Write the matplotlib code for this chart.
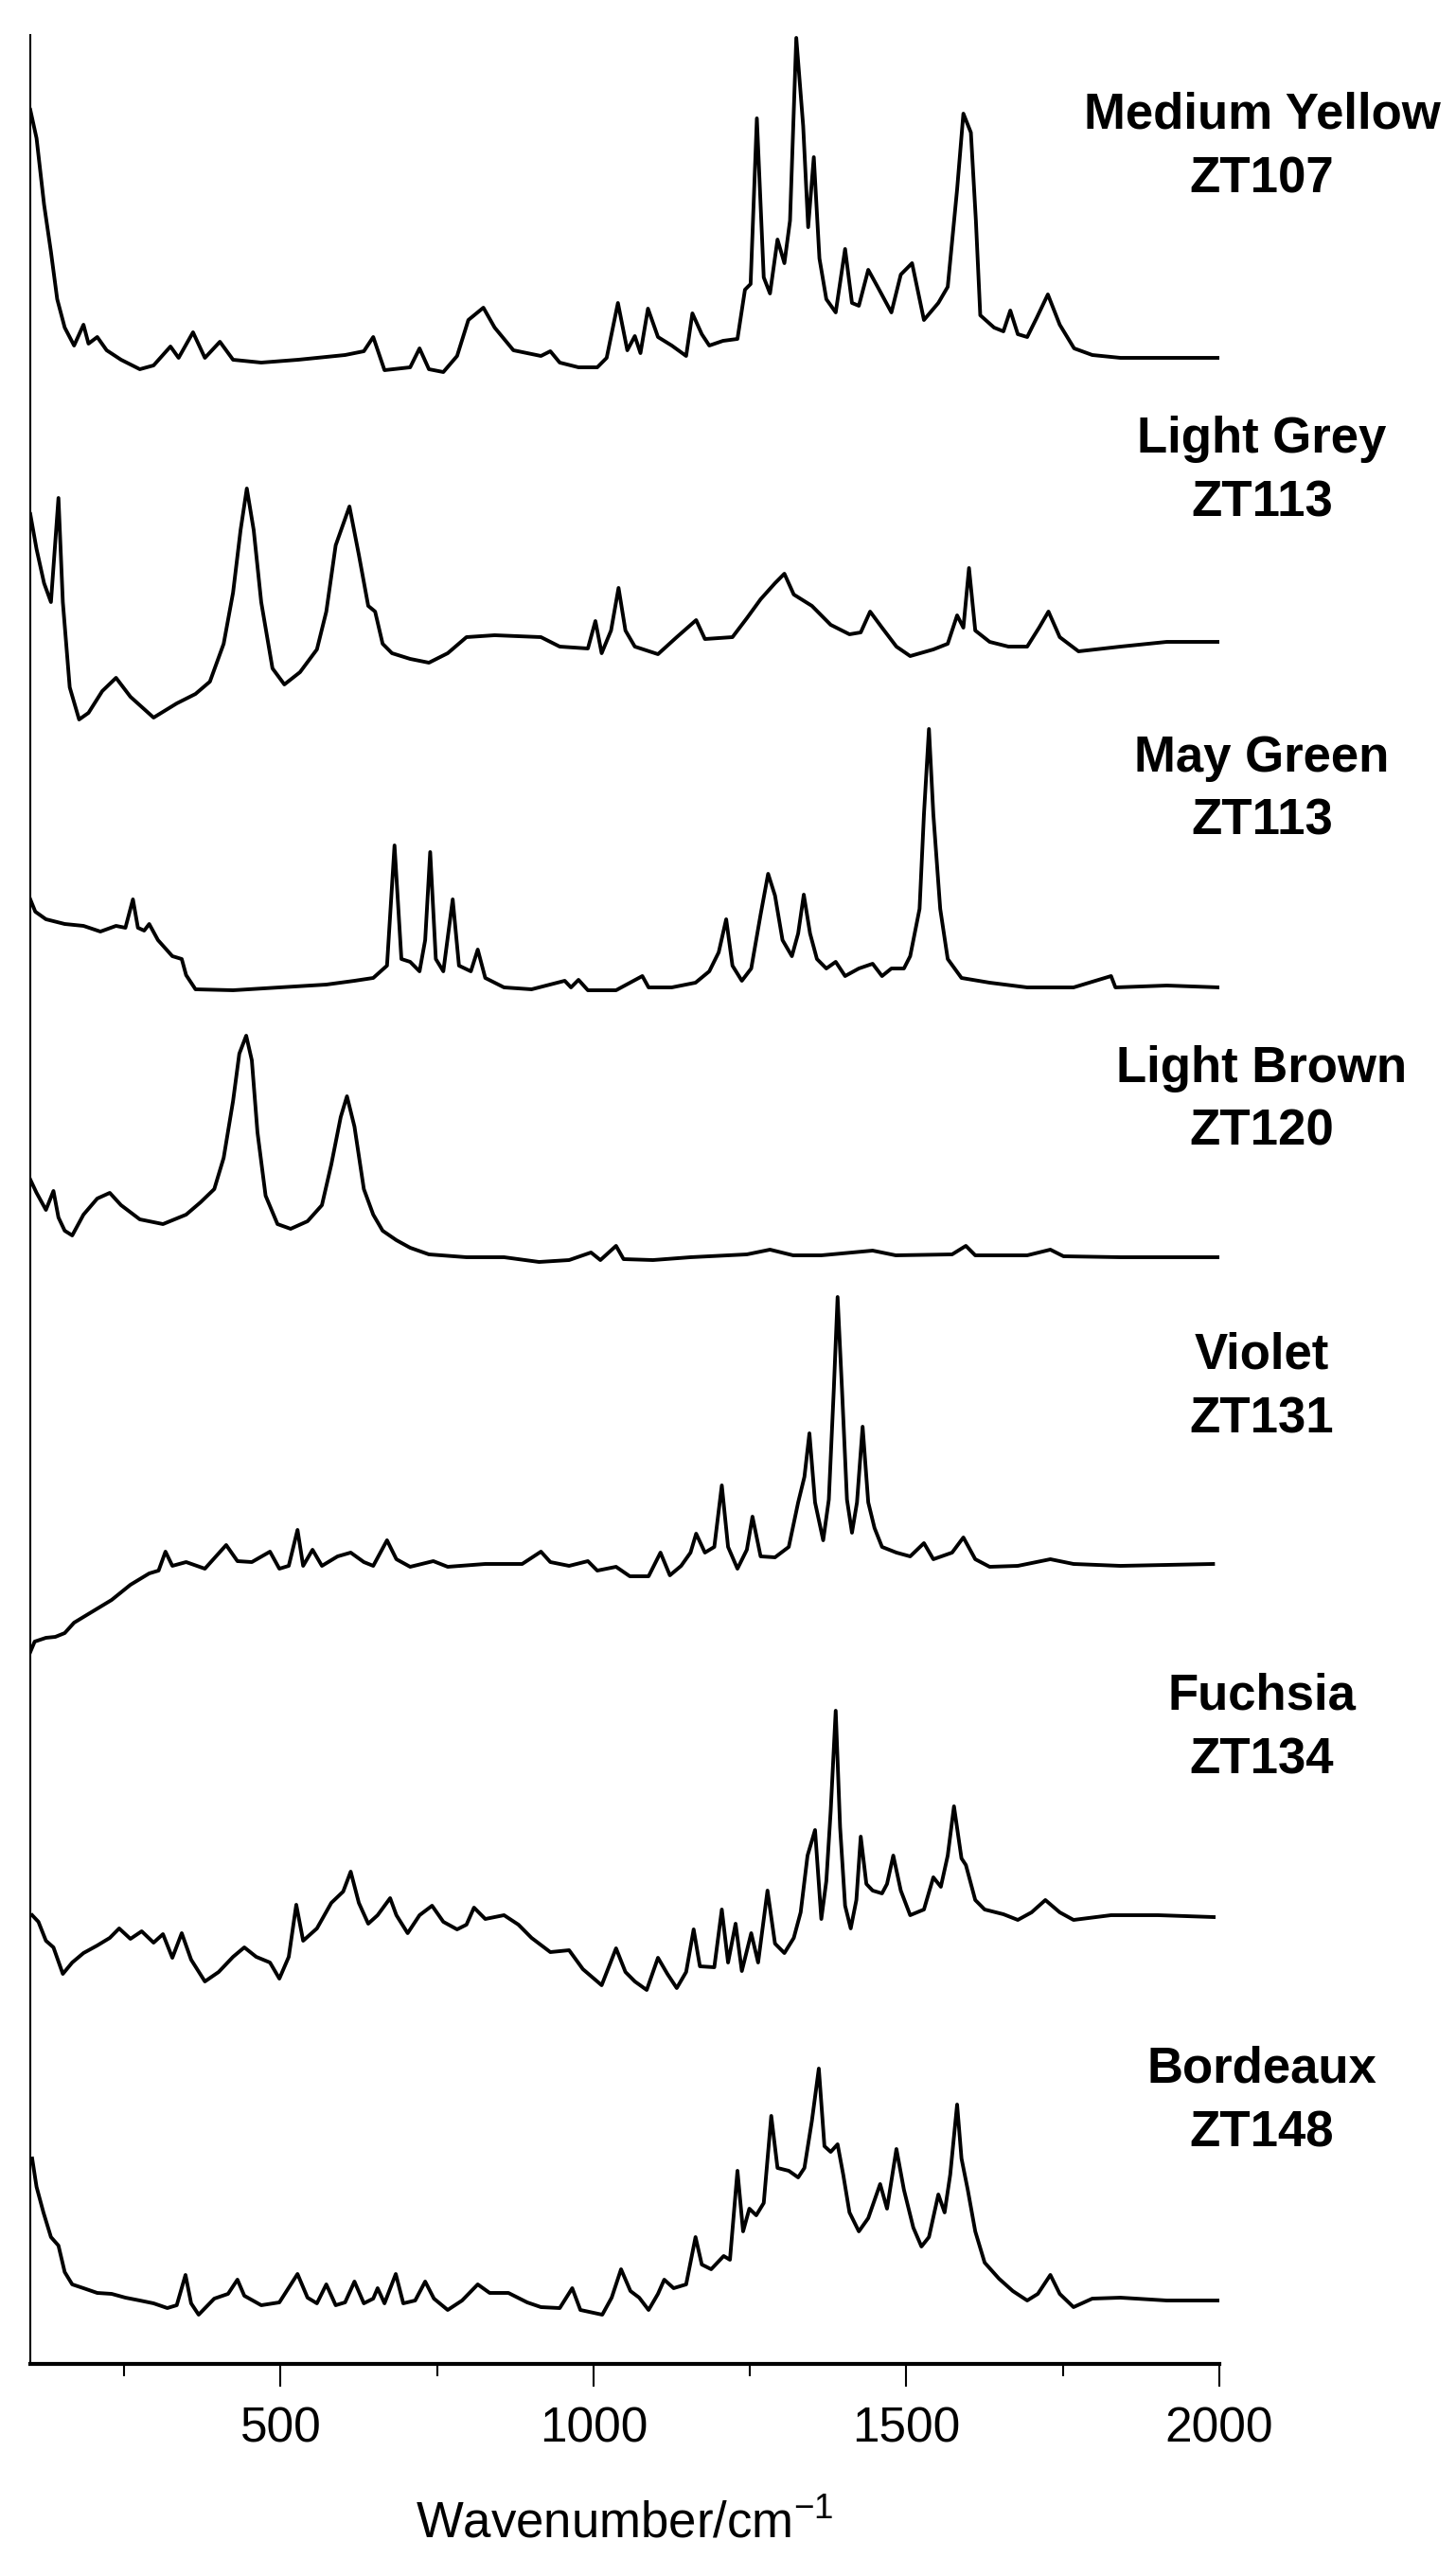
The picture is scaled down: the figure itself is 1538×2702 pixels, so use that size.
import matplotlib
matplotlib.use("Agg")
import matplotlib.pyplot as plt
from matplotlib.ticker import MultipleLocator

plt.rcParams['font.family'] = ['Liberation Sans', 'DejaVu Sans']
plt.rcParams['mathtext.default'] = 'regular'

# spectra: wavenumber (cm-1) and intensity above each trace's baseline
yellow_wn = [100, 110, 122, 133, 143, 155, 170, 185, 193, 207, 222, 245, 275, 297, 324, 337, 360, 379, 403, 424,
             469, 528, 603, 633, 648, 666, 707, 722, 737, 760, 782, 800, 824, 842, 872, 916, 931, 946, 976, 1006,
             1021, 1039, 1054, 1066, 1075, 1087, 1103, 1125, 1148, 1158, 1173, 1185, 1207, 1230, 1242, 1251, 1261,
             1272, 1282, 1294, 1305, 1314, 1324, 1335, 1343, 1352, 1361, 1372, 1387, 1402, 1413, 1424, 1439, 1454,
             1476, 1491, 1509, 1528, 1551, 1566, 1581, 1591, 1603, 1611, 1618, 1640, 1655, 1666, 1678, 1693, 1708,
             1726, 1745, 1768, 1797, 1842, 1916, 2000]
yellow_int = [262, 232, 162, 112, 62, 32, 13, 35, 15, 22, 8, -2, -12, -8, 12, 0, 27, 0, 17, -2,
              -5, -2, 3, 7, 22, -13, -10, 10, -12, -15, 2, 40, 53, 32, 8, 2, 7, -5, -10, -10,
              0, 58, 8, 23, 5, 52, 22, 13, 2, 47, 25, 13, 18, 20, 72, 78, 253,
              85, 68, 125, 100, 145, 338, 245, 138, 212, 105, 62, 48, 115, 58, 55, 93, 75,
              48, 88, 100, 40, 58, 75, 178, 258, 238, 145, 45, 32, 28, 50, 25, 22, 42,
              67, 35, 10, 3, 0, 0, 0]

grey_wn = [100, 110, 122, 133, 145, 152, 163, 178, 193, 215, 237, 260, 297, 334, 364, 387, 409, 424, 436, 446,
           457, 469, 487, 506, 531, 558, 573, 588, 610, 625, 640, 651, 663, 678, 707, 737, 767, 797, 842, 916,
           946, 991, 1003, 1013, 1028, 1040, 1051, 1066, 1103, 1133, 1164, 1178, 1222, 1245, 1267, 1290, 1305,
           1320, 1349, 1379, 1409, 1427, 1442, 1461, 1484, 1506, 1543, 1566, 1581, 1591, 1600, 1610, 1633, 1663,
           1693, 1712, 1727, 1745, 1775, 1842, 1916, 2000]
grey_int = [135, 98, 62, 42, 152, 42, -48, -82, -75, -52, -38, -58, -80, -65, -55, -42, -2, 52, 118, 162,
            118, 42, -28, -45, -32, -8, 32, 102, 143, 92, 38, 32, -2, -12, -18, -22, -12, 5, 7, 5,
            -5, -7, 22, -12, 12, 57, 12, -5, -13, 5, 23, 3, 5, 25, 45, 62, 72,
            50, 38, 18, 8, 10, 32, 15, -5, -15, -8, -2, 28, 15, 78, 12, 0, -5,
            -5, 15, 32, 5, -10, -5, 0, 0]

green_wn = [100, 108, 125, 155, 185, 212, 237, 252, 264, 272, 282, 290, 304, 327, 342, 349, 364, 424, 498, 573,
            618, 648, 670, 682, 693, 707, 722, 731, 739, 748, 760, 775, 785, 804, 815, 827, 857, 901, 954, 964,
            976, 991, 1036, 1078, 1088, 1125, 1163, 1185, 1200, 1212, 1222, 1237, 1252, 1267, 1279, 1290, 1302,
            1317, 1327, 1336, 1346, 1357, 1372, 1387, 1402, 1424, 1446, 1461, 1476, 1496, 1506, 1521, 1528, 1536,
            1543, 1554, 1566, 1588, 1633, 1693, 1767, 1827, 1834, 1916, 2000]
green_int = [93, 80, 72, 67, 65, 59, 65, 63, 93, 63, 60, 67, 50, 33, 30, 13, -2, -3, 0, 3,
             7, 10, 23, 150, 30, 27, 17, 50, 143, 30, 17, 93, 23, 17, 40, 10, 0, -2, 7, 0,
             8, -3, -3, 12, 0, 0, 5, 17, 37, 72, 23, 7, 20, 77, 120, 97, 50,
             33, 57, 98, 57, 30, 20, 27, 12, 20, 25, 12, 20, 20, 33, 83, 183, 273,
             183, 83, 30, 10, 5, 0, 0, 12, 0, 2, 0]

brown_wn = [100, 110, 125, 137, 145, 155, 167, 185, 207, 227, 245, 275, 312, 349, 372, 394, 409, 424, 434, 445,
            454, 463, 476, 495, 516, 543, 566, 581, 596, 606, 618, 633, 648, 663, 685, 707, 737, 797, 857, 913,
            961, 996, 1011, 1036, 1048, 1095, 1155, 1245, 1282, 1319, 1364, 1446, 1483, 1573, 1595, 1610, 1693,
            1730, 1751, 1842, 2000]
brown_int = [82, 68, 50, 70, 42, 28, 23, 45, 62, 68, 55, 40, 35, 45, 58, 72, 105, 165, 215, 234,
             208, 132, 65, 35, 30, 38, 55, 98, 148, 170, 138, 72, 45, 28, 18, 10, 3, 0, 0, -5,
             -3, 5, -3, 12, -2, -3, 0, 3, 8, 2, 2, 7, 2, 3, 12, 2, 2,
             8, 1, 0, 0]

violet_wn = [100, 107, 125, 140, 155, 170, 200, 230, 260, 290, 305, 316, 327, 349, 379, 413, 431, 454, 483, 498,
             513, 527, 536, 551, 566, 591, 612, 633, 648, 670, 685, 707, 744, 767, 827, 886, 916, 931, 961, 991,
             1006, 1036, 1058, 1088, 1107, 1122, 1140, 1155, 1164, 1178, 1193, 1205, 1215, 1230, 1245, 1254, 1267,
             1290, 1312, 1327, 1337, 1345, 1354, 1367, 1376, 1384, 1390, 1397, 1405, 1413, 1421, 1430, 1439, 1449,
             1461, 1484, 1506, 1528, 1543, 1573, 1591, 1610, 1633, 1678, 1730, 1767, 1842, 1990]
violet_int = [-93, -82, -78, -77, -73, -62, -50, -38, -22, -10, -7, 13, -2, 2, -5, 20, 3, 2, 13, -5,
              -2, 36, -2, 15, -2, 8, 12, 2, -2, 25, 5, -3, 3, -3, 0, 0, 13, 2, -2, 3,
              -7, -3, -13, -13, 12, -12, -2, 12, 32, 12, 18, 83, 18, -5, 15, 50, 8,
              7, 18, 65, 92, 138, 65, 25, 68, 185, 282, 185, 68, 33, 65, 145, 65, 38,
              18, 12, 8, 22, 5, 12, 28, 5, -3, -2, 5, 0, -2, 0]

fuchsia_wn = [103, 113, 125, 137, 152, 167, 185, 207, 227, 242, 260, 278, 297, 312, 327, 342, 357, 379, 401, 424,
              442, 461, 483, 498, 513, 525, 536, 558, 581, 600, 612, 625, 640, 655, 675, 685, 703, 722, 742, 760,
              782, 797, 809, 827, 857, 880, 901, 931, 961, 983, 1013, 1036, 1051, 1066, 1085, 1103, 1118, 1133,
              1148, 1160, 1170, 1193, 1205, 1215, 1227, 1237, 1252, 1263, 1278, 1290, 1305, 1320, 1331, 1342,
              1354, 1364, 1372, 1379, 1387, 1394, 1402, 1411, 1420, 1427, 1436, 1446, 1461, 1469, 1479, 1491,
              1506, 1528, 1543, 1555, 1566, 1576, 1588, 1595, 1610, 1625, 1655, 1678, 1700, 1722, 1745, 1767,
              1827, 1902, 1991]
fuchsia_int = [2, -5, -25, -32, -60, -48, -38, -30, -22, -12, -23, -15, -27, -18, -43, -17, -45, -68, -58, -42,
               -32, -42, -48, -65, -42, 13, -25, -12, 15, 27, 48, 15, -7, 2, 20, 2, -17, 2, 12, -5,
               -13, -8, 10, -2, 2, -8, -22, -37, -35, -55, -72, -33, -58, -68, -77, -43, -60, -75,
               -58, -13, -52, -53, 8, -48, -7, -57, -17, -48, 28, -28, -38, -22, 5, 65,
               92, -2, 38, 112, 218, 95, 12, -12, 18, 85, 35, 28, 25, 35, 65, 28,
               2, 8, 42, 32, 65, 117, 62, 55, 18, 8, 3, -3, 5, 18, 5, -3,
               2, 2, 0]

bordeaux_wn = [103, 110, 121, 133, 145, 155, 167, 185, 207, 230, 252, 275, 297, 319, 334, 348, 357, 369, 394, 416,
               431, 442, 469, 498, 527, 543, 558, 573, 588, 603, 618, 633, 648, 655, 666, 684, 696, 715, 731, 745,
               767, 790, 815, 834, 864, 894, 916, 946, 966, 979, 1014, 1029, 1044, 1059, 1073, 1088, 1103, 1113,
               1128, 1148, 1163, 1173, 1188, 1208, 1218, 1230, 1239, 1249, 1260, 1272, 1284, 1294, 1312, 1327,
               1337, 1349, 1360, 1369, 1379, 1390, 1399, 1409, 1424, 1439, 1458, 1469, 1484, 1496, 1511, 1524,
               1536, 1551, 1561, 1570, 1581, 1588, 1598, 1610, 1625, 1648, 1670, 1693, 1710, 1730, 1745, 1767,
               1797, 1842, 1916, 2000]
bordeaux_int = [150, 120, 93, 67, 58, 30, 17, 13, 8, 7, 3, 0, -3, -8, -5, 27, -3, -15, 2, 7,
                22, 5, -5, -2, 28, 3, -3, 17, -5, -2, 20, -3, 2, 13, -3, 28, -3, 0, 20, 2,
                -10, 0, 17, 8, 8, -2, -7, -8, 13, -10, -15, 3, 33, 10, 3, -10, 7, 22,
                13, 17, 67, 38, 33, 47, 43, 137, 73, 97, 90, 103, 195, 140, 137, 130,
                140, 190, 245, 163, 157, 165, 133, 93, 73, 87, 123, 97, 160, 117, 77, 57,
                67, 112, 93, 133, 207, 150, 117, 73, 40, 23, 10, 0, 7, 27, 7, -7,
                2, 3, 0, 0]

names = ["Medium Yellow", "Light Grey", "May Green", "Light Brown", "Violet", "Fuchsia", "Bordeaux"]
codes = ["ZT107", "ZT113", "ZT113", "ZT120", "ZT131", "ZT134", "ZT148"]
spectra = [(yellow_wn, yellow_int), (grey_wn, grey_int), (green_wn, green_int), (brown_wn, brown_int),
           (violet_wn, violet_int), (fuchsia_wn, fuchsia_int), (bordeaux_wn, bordeaux_int)]

# vertical stacking offsets and label heights (same units as the y axis)
offsets = [2119, 1819, 1454, 1169, 845, 472, 67]
label_y = [2294, 1952, 1615, 1287, 984, 624, 230]
label_x = 2068
line_gap = 67

fig = plt.figure(figsize=(15.38, 27.02), dpi=100)
ax = fig.add_axes([32/1538, 1 - 2497/2702, 1256/1538, 2460/2702])

for (wn, inten), off in zip(spectra, offsets):
    ax.plot(wn, [v + off for v in inten], color="black", lw=2.8, solid_joinstyle="round")

for name, code, ly in zip(names, codes, label_y):
    ax.text(label_x, ly + line_gap, name, ha="center", va="baseline", fontsize=38, fontweight="bold")
    ax.text(label_x, ly, code, ha="center", va="baseline", fontsize=38, fontweight="bold")

ax.set_xlim(100, 2000)
ax.set_ylim(0, 2460)
ax.spines["top"].set_visible(False)
ax.spines["right"].set_visible(False)
ax.spines["left"].set_linewidth(1.5)
ax.spines["bottom"].set_linewidth(3.0)
ax.set_yticks([])
ax.xaxis.set_major_locator(MultipleLocator(500))
ax.xaxis.set_minor_locator(MultipleLocator(250))
ax.tick_params(axis="x", which="major", direction="out", length=17, width=1.5, pad=15, labelsize=37)
ax.tick_params(axis="x", which="minor", direction="out", length=9.5, width=1.5)
ax.set_xlabel(r"Wavenumber/cm$^{-1}$", fontsize=38, labelpad=37)

fig.savefig("out.png", dpi=100)
